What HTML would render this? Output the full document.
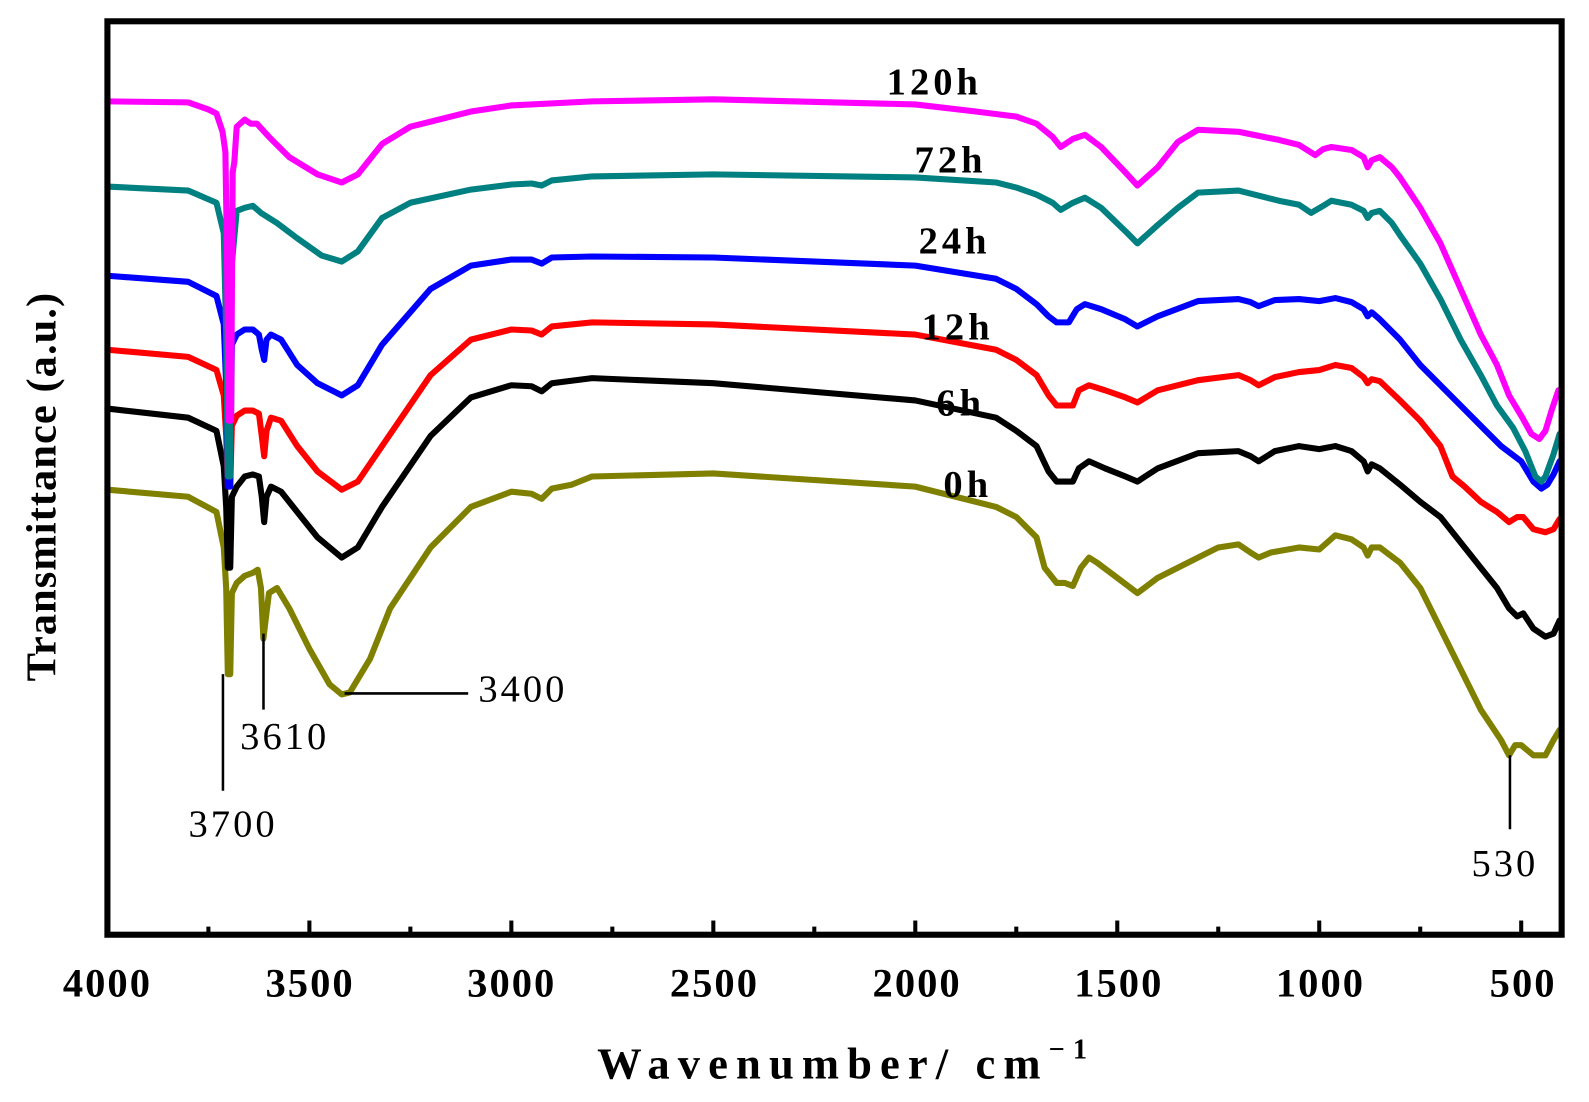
<!DOCTYPE html>
<html><head><meta charset="utf-8"><style>
html,body{margin:0;padding:0;background:#fff;}
svg{display:block;}
text{font-family:"Liberation Serif",serif;}
</style></head><body>
<svg id="s" width="1589" height="1102" viewBox="0 0 1568 1087" preserveAspectRatio="none" xmlns="http://www.w3.org/2000/svg">
<g id="curves" fill="none" stroke-width="6" stroke-linejoin="round" stroke-linecap="round"></g>
<!-- frame -->
<rect x="106" y="21" width="1435" height="901" fill="none" stroke="#000" stroke-width="6"/>
<g id="ticks" stroke="#000" stroke-width="4"></g>
<g font-weight="bold" font-size="40" text-anchor="middle" letter-spacing="2">
<text x="106" y="983">4000</text><text x="306" y="983">3500</text><text x="505" y="983">3000</text>
<text x="705" y="983">2500</text><text x="905" y="983">2000</text><text x="1104" y="983">1500</text>
<text x="1303" y="983">1000</text><text x="1503" y="983">500</text>
</g>
<text x="835" y="1064" font-weight="bold" font-size="44" text-anchor="middle" letter-spacing="8">Wavenumber/ cm<tspan font-size="28" dy="-20">−1</tspan></text>
<text transform="translate(55,480) rotate(-90)" font-weight="bold" font-size="42" text-anchor="middle" letter-spacing="1">Transmittance (a.u.)</text>
<g font-weight="bold" font-size="38" letter-spacing="4" text-anchor="middle">
<text x="922" y="93">120h</text><text x="938" y="170">72h</text><text x="942" y="250">24h</text>
<text x="945" y="335">12h</text><text x="948" y="410">6h</text><text x="955" y="490">0h</text>
</g>
<g stroke="#000" stroke-width="2.5">
<line x1="220" y1="665" x2="220" y2="780"/>
<line x1="260" y1="625" x2="260" y2="700"/>
<line x1="340" y1="684" x2="462" y2="684"/>
<line x1="1490" y1="745" x2="1490" y2="818"/>
</g>
<g font-size="38" letter-spacing="3" text-anchor="middle">
<text x="230" y="825">3700</text><text x="281" y="739">3610</text><text x="516" y="692">3400</text><text x="1485" y="864">530</text>
</g>
</svg>
<script>
function X(w){return 106+(4000-w)*0.3986;}
var ticks=document.getElementById('ticks'),h='';
for(var w=4000;w>=500;w-=250){var x=X(w),l=(w%500==0)?14:8;h+='<line x1="'+x+'" y1="922" x2="'+x+'" y2="'+(922-l)+'"/>';}
ticks.innerHTML=h;
var curves=[
["#808000",[[4000,483],[3800,490],[3730,505],[3712,540],[3706,580],[3702,665],[3696,665],[3692,585],[3680,575],[3660,568],[3640,565],[3628,562],[3620,580],[3614,630],[3608,610],[3600,585],[3580,580],[3550,600],[3500,640],[3450,675],[3420,685],[3400,683],[3350,650],[3300,600],[3200,540],[3100,500],[3000,485],[2950,487],[2925,492],[2900,482],[2850,478],[2800,470],[2500,467],[2000,480],[1800,500],[1750,510],[1700,530],[1680,560],[1650,575],[1630,575],[1610,578],[1590,560],[1570,550],[1550,555],[1500,570],[1450,585],[1400,570],[1300,550],[1250,540],[1200,537],[1170,545],[1150,550],[1120,545],[1050,540],[1000,542],[980,535],[960,528],[920,532],[890,540],[880,548],[870,540],[850,540],[800,555],[750,580],[700,620],[650,660],[600,700],[550,730],[530,745],[515,735],[500,735],[470,745],[440,745],[420,730],[405,720]]],
["#000000",[[4000,403],[3800,412],[3730,425],[3712,460],[3706,500],[3702,560],[3696,560],[3692,490],[3680,480],[3660,470],[3640,468],[3625,470],[3618,490],[3612,515],[3606,490],[3595,480],[3570,485],[3530,505],[3480,530],[3420,550],[3380,540],[3320,500],[3200,430],[3100,392],[3000,380],[2950,381],[2925,386],[2900,378],[2800,373],[2500,378],[2000,395],[1800,412],[1750,425],[1700,440],[1670,465],[1650,475],[1610,475],[1595,462],[1570,455],[1530,462],[1480,470],[1450,475],[1400,462],[1300,447],[1200,445],[1170,450],[1150,455],[1110,445],[1050,440],[1000,443],[960,440],[920,445],[890,455],[880,465],[870,458],[850,462],[800,478],[750,495],[700,510],[650,535],[600,560],[560,580],[530,600],[510,608],[495,605],[470,620],[440,628],[420,625],[405,612]]],
["#ff0000",[[4000,345],[3800,352],[3730,365],[3712,390],[3706,430],[3702,480],[3696,480],[3692,420],[3680,410],[3660,405],[3640,405],[3625,408],[3618,430],[3612,450],[3606,425],[3595,412],[3570,415],[3530,440],[3480,465],[3420,483],[3380,475],[3320,440],[3200,370],[3100,335],[3000,325],[2950,326],[2925,330],[2900,322],[2800,318],[2500,320],[2000,330],[1800,345],[1750,355],[1700,370],[1670,390],[1650,400],[1610,400],[1595,385],[1570,380],[1530,385],[1480,392],[1450,397],[1400,385],[1300,375],[1200,370],[1170,375],[1150,380],[1110,372],[1050,367],[1000,365],[960,360],[920,363],[890,372],[880,378],[870,374],[850,376],[800,395],[750,415],[700,440],[670,470],[640,480],[600,495],[560,505],[530,515],[510,510],[495,510],[470,522],[440,525],[420,522],[405,512]]],
["#0000ff",[[4000,272],[3800,278],[3730,292],[3712,320],[3706,380],[3702,480],[3696,480],[3692,340],[3680,330],[3660,325],[3640,325],[3625,330],[3618,345],[3612,355],[3606,335],[3595,330],[3570,335],[3530,360],[3480,378],[3420,390],[3380,380],[3320,340],[3200,285],[3100,262],[3000,256],[2950,256],[2925,260],[2900,254],[2800,253],[2500,254],[2000,262],[1800,275],[1750,285],[1700,300],[1670,312],[1650,318],[1620,318],[1600,305],[1580,300],[1540,305],[1480,315],[1450,322],[1400,312],[1300,297],[1200,295],[1170,298],[1150,302],[1110,296],[1050,295],[1000,297],[960,294],[920,298],[890,305],[880,312],[870,308],[850,315],[800,335],[750,360],[700,380],[650,400],[600,420],[550,440],[500,455],[470,475],[450,482],[435,478],[420,468],[405,455]]],
["#008080",[[4000,184],[3800,188],[3730,200],[3712,230],[3706,330],[3702,470],[3696,470],[3692,260],[3680,208],[3660,205],[3640,203],[3620,210],[3580,220],[3530,235],[3470,252],[3420,258],[3380,248],[3320,215],[3250,200],[3100,187],[3000,182],[2950,181],[2925,183],[2900,178],[2800,174],[2500,172],[2000,175],[1800,180],[1750,185],[1700,192],[1660,200],[1640,207],[1610,200],[1580,195],[1540,205],[1480,228],[1450,240],[1400,222],[1350,205],[1300,190],[1200,188],[1100,198],[1050,202],[1020,210],[990,203],[970,198],[920,202],[890,208],[880,215],[870,210],[850,208],[820,220],[800,232],[750,260],[700,295],[650,335],[600,370],[560,400],[520,422],[490,445],[465,470],[450,475],[440,470],[420,448],[405,428]]],
["#ff00ff",[[4000,100],[3800,101],[3750,108],[3730,112],[3715,130],[3708,150],[3704,250],[3700,415],[3694,415],[3690,170],[3686,160],[3680,125],[3660,118],[3645,122],[3630,122],[3600,135],[3550,155],[3480,172],[3420,180],[3380,172],[3320,142],[3250,125],[3100,110],[3000,104],[2800,100],[2500,98],[2000,103],[1850,110],[1750,115],[1700,122],[1660,135],[1640,145],[1610,137],[1580,133],[1540,145],[1480,170],[1450,183],[1400,165],[1350,140],[1300,128],[1200,130],[1100,138],[1050,143],[1010,153],[990,147],[970,145],[920,148],[890,155],[880,165],[870,158],[850,155],[820,165],[800,175],[750,205],[700,240],[650,285],[600,330],[560,360],[530,390],[500,410],[475,428],[455,433],[440,425],[425,405],[408,385]]]
];
var g=document.getElementById('curves'),out='';
curves.forEach(function(c){
 var pts=c[1].map(function(p){return X(p[0]).toFixed(1)+','+p[1];}).join(' ');
 out+='<polyline stroke="'+c[0]+'" points="'+pts+'"/>';
});
g.innerHTML=out;
</script>
</body></html>
